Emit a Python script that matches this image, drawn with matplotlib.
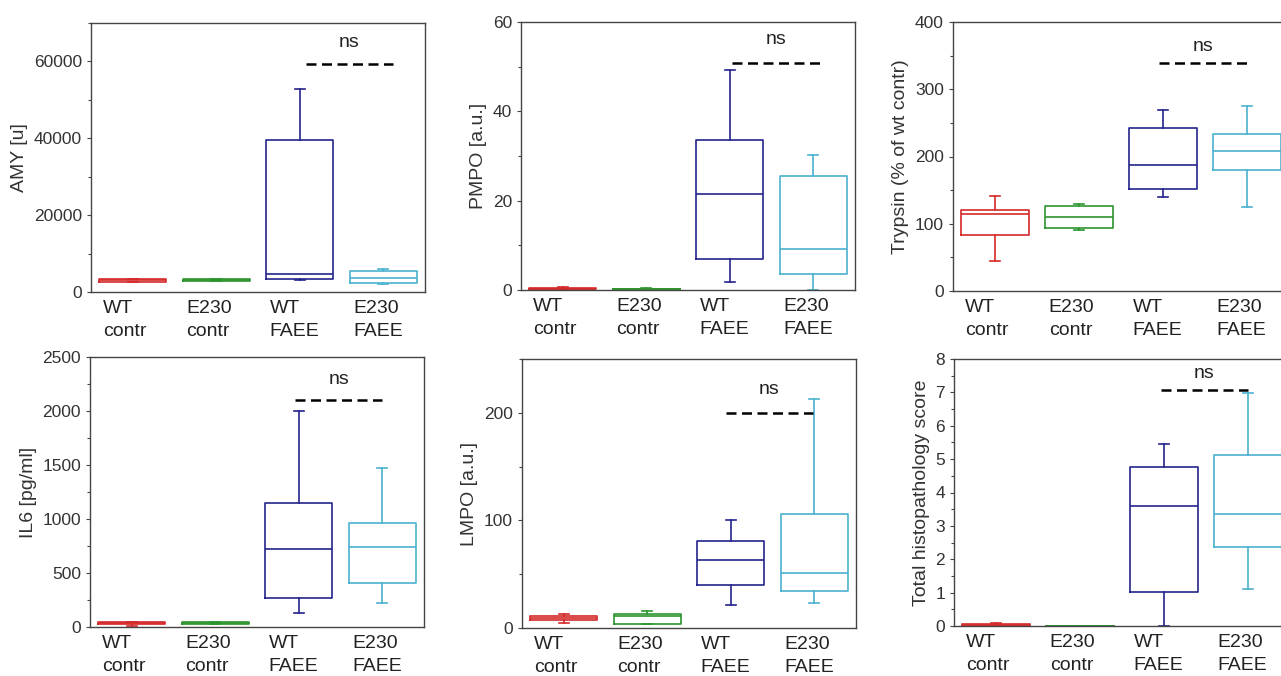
import matplotlib
matplotlib.use("Agg")
import matplotlib.pyplot as plt
from matplotlib.ticker import MultipleLocator

plt.rcParams['font.family'] = ['Liberation Sans', 'DejaVu Sans']

groups = ["WT\ncontr", "E230\ncontr", "WT\nFAEE", "E230\nFAEE"]
colors = ['#d42a2a', '#2e952e', '#24248c', '#4ab2cf']

# per group: (whisker low, q1, median, q3, whisker high)
amy = [(2500, 2700, 3000, 3350, 3400),
       (2750, 2750, 3100, 3450, 3500),
       (3100, 3460, 4590, 39490, 52740),
       (2000, 2250, 3550, 5450, 6060)]
pmpo = [(0.05, 0.2, 0.3, 0.35, 0.6),
        (0.05, 0.15, 0.2, 0.25, 0.35),
        (1.7, 6.9, 21.6, 33.5, 49.2),
        (0.0, 3.5, 9.1, 25.6, 30.3)]
trypsin = [(45, 82.7, 113.9, 119.8, 141.6),
           (90, 93, 109.9, 126.2, 129.7),
           (139.6, 151.5, 188, 242, 269.8),
           (124.8, 179.7, 208, 233, 274.8)]
il6 = [(10, 28, 35, 42, 45),
       (28, 30, 38, 45, 48),
       (130, 269, 724, 1151, 1999),
       (226, 411, 743, 965, 1476)]
lmpo = [(4.9, 7.4, 9.6, 11.4, 13.3),
        (3.7, 3.7, 11.4, 13.3, 15.5),
        (21.6, 39.6, 63.4, 81, 100),
        (22.9, 34.3, 51, 106.3, 212.4)]
histo = [(0, 0, 0.02, 0.07, 0.1),
         (0, 0, 0, 0, 0),
         (0, 1.01, 3.61, 4.75, 5.44),
         (1.11, 2.36, 3.37, 5.13, 6.97)]

ylabels = ["AMY [u]", "PMPO [a.u.]", "Trypsin (% of wt contr)",
           "IL6 [pg/ml]", "LMPO [a.u.]", "Total histopathology score"]
ylims = [70000, 60, 400, 2500, 250, 8]
major = [20000, 20, 100, 500, 100, 1]
minor = [10000, 10, 50, 250, 50, 0.5]
ns_y = [59400, 50.9, 339.6, 2104, 200, 7.08]
ns_text_y = [65000, 56.1, 362.9, 2296, 221.6, 7.57]
ns_x = [(3.07, 4.12), (3.03, 4.08), (2.95, 4.0), (2.96, 4.0), (2.94, 3.98), (2.96, 4.0)]

# axes boxes in pixels: x0, x1, y0 (top), y1 (bottom)
boxes_px = [(91, 425, 23, 292), (521, 855, 22, 290), (953, 1289, 22, 291),
            (90, 424, 357, 627), (522, 856, 359, 628), (954, 1290, 359, 626)]

W, H = 1281, 676
fig = plt.figure(figsize=(W / 100, H / 100), dpi=100)

datasets = [amy, pmpo, trypsin, il6, lmpo, histo]
pos = [1, 2, 3, 4]
for k, data in enumerate(datasets):
    x0, x1, y0, y1 = boxes_px[k]
    ax = fig.add_axes([x0 / W, (H - y1) / H, (x1 - x0) / W, (y1 - y0) / H])
    for i, d in enumerate(data):
        st = [dict(whislo=d[0], q1=d[1], med=d[2], q3=d[3], whishi=d[4], fliers=[])]
        c = colors[i]
        ax.bxp(st, positions=[pos[i]], widths=0.8, capwidths=0.12,
               showfliers=False, manage_ticks=False,
               boxprops=dict(color=c, lw=1.2),
               whiskerprops=dict(color=c, lw=1.2),
               capprops=dict(color=c, lw=1.2),
               medianprops=dict(color=c, lw=1.2))
    ax.set_xlim(0.5, 4.5)
    ax.set_ylim(0, ylims[k])
    ax.yaxis.set_major_locator(MultipleLocator(major[k]))
    ax.yaxis.set_minor_locator(MultipleLocator(minor[k]))
    ax.set_xticks([p - 0.36 for p in pos])
    ax.set_xticklabels(groups, ha='left', linespacing=1.4, fontsize=14, color='#222')
    ax.tick_params(axis='x', length=0, pad=6)
    ax.tick_params(axis='y', which='major', direction='out', length=3, width=0.8,
                   labelsize=12.5, labelcolor='#333', color='#444')
    ax.tick_params(axis='y', which='minor', direction='out', length=2, width=0.8, color='#444')
    for sp in ax.spines.values():
        sp.set_color('#444')
        sp.set_linewidth(1.0)
    ax.set_ylabel(ylabels[k], fontsize=14, color='#333', labelpad=4)
    ax.plot(ns_x[k], [ns_y[k], ns_y[k]], color='black', lw=1.8, dashes=(4, 2.2))
    ax.text(sum(ns_x[k]) / 2, ns_text_y[k], "ns", ha='center', va='center',
            fontsize=14, color='#222')

fig.savefig("out.png", dpi=100)
